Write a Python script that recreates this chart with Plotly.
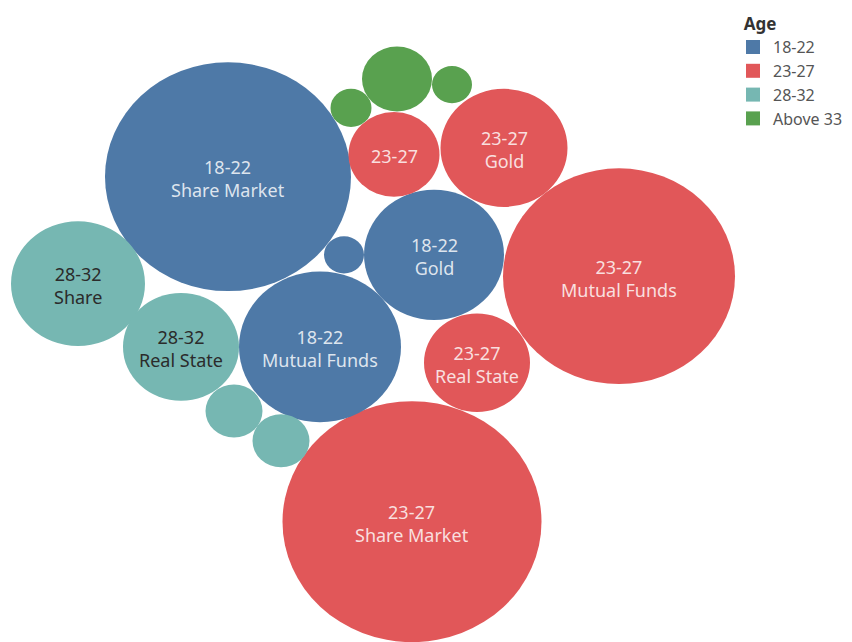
import plotly.graph_objects as go

# Packed bubble layout (y axis compressed so circles look slightly oval)
ages = ["18-22", "23-27", "28-32", "Above 33"]
colors = {"18-22": "#4E79A7", "23-27": "#E15759", "28-32": "#76B7B2", "Above 33": "#59A14F"}

bubble_age = ["18-22", "23-27", "23-27", "18-22", "18-22", "23-27", "28-32", "28-32",
              "23-27", "23-27", "Above 33", "Above 33", "Above 33", "18-22", "28-32", "28-32"]
bubble_label = ["Share Market", "Share Market", "Mutual Funds", "Mutual Funds", "Gold", "Gold",
                "Share", "Real State", "Real State", "", None, None, None, None, None, None]
center_x = [228, 412, 619, 320, 434, 504, 78, 181, 477, 394, 397, 351, 452, 344, 234, 281]
center_y = [190, 561, 297, 373, 274, 159, 305, 373, 390, 166, 85, 116, 91, 274, 442, 474]
radius = [123, 129.5, 116, 81, 70, 63.5, 67, 58, 53, 45.5, 35, 20.5, 20, 20, 28.5, 28.5]

fig = go.Figure()

shapes = []
for a, cx, cy, r in zip(bubble_age, center_x, center_y, radius):
    shapes.append(dict(type="circle", xref="x", yref="y",
                       x0=cx - r, x1=cx + r, y0=cy - r, y1=cy + r,
                       fillcolor=colors[a], line=dict(width=0), layer="below"))

# labels
annotations = []
for a, lab, cx, cy in zip(bubble_age, bubble_label, center_x, center_y):
    if lab is None:
        continue
    txt = a if lab == "" else f"{a}<br>{lab}"
    tcol = "#2b2b2b" if a == "28-32" else "rgba(255,255,255,0.82)"
    annotations.append(dict(x=cx, y=cy, text=txt, showarrow=False, yshift=-2,
                            font=dict(family="Noto Sans", size=18, color=tcol)))

# legend entries
for a in ages:
    fig.add_trace(go.Scatter(
        x=[None], y=[None], mode="markers", name=a,
        marker=dict(symbol="square", size=14, color=colors[a])))

# page body adds an 8px margin, so the figure is 844x634 and covers pixels 8..852 / 8..642
fig.update_layout(
    width=844, height=634,
    margin=dict(l=0, r=0, t=0, b=0),
    plot_bgcolor="white", paper_bgcolor="white",
    shapes=shapes,
    annotations=annotations,
    xaxis=dict(range=[8, 852], visible=False, fixedrange=True),
    yaxis=dict(range=[642 / 0.93, 8 / 0.93], visible=False, fixedrange=True),
    font=dict(family="Noto Sans", color="#555"),
    legend=dict(
        title=dict(text="&nbsp;&nbsp;<b>Age</b>", font=dict(size=17, color="#333")),
        x=0.859, y=1.0, xanchor="left", yanchor="top",
        font=dict(size=16, color="#555"),
        tracegroupgap=0, itemwidth=30,
    ),
)

fig.write_html("out.html")
